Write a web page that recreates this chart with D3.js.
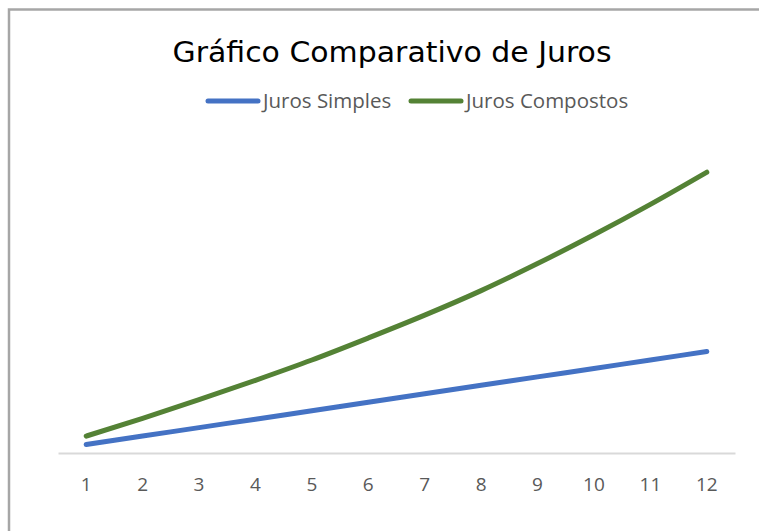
<!DOCTYPE html>
<html>
<head>
<meta charset="utf-8">
<script src="https://cdn.jsdelivr.net/npm/d3@7"></script>
<style>
  html, body { margin: 0; padding: 0; background: #fff; }
  svg { display: block; }
</style>
</head>
<body>
<script>
'use strict';

// categories (periods) and the two series
const periods = ["1", "2", "3", "4", "5", "6", "7", "8", "9", "10", "11", "12"];
const jurosSimples = [10, 20, 30, 40, 50, 60, 70, 80, 90, 100, 110, 120];
const jurosCompostos = [20, 41, 63, 86, 110, 136, 163, 192, 224, 258, 294, 332];
const seriesNames = ["Juros Simples", "Juros Compostos"];
const seriesColors = ["#4472C4", "#548235"];

(function () {
    const width = 759, height = 531;

    const svg = d3.select('body')
        .append('svg')
        .attr('width', width)
        .attr('height', height);

    // chart frame (cut off at right and bottom)
    svg.append('rect')
        .attr('x', 9)
        .attr('y', 9.5)
        .attr('width', 800)
        .attr('height', 600)
        .attr('fill', '#fff')
        .attr('stroke', '#a6a6a6')
        .attr('stroke-width', 2.5);

    // scales
    const x = d3.scaleBand()
        .domain(periods)
        .range([58, 735]);

    const y = d3.scaleLinear()
        .domain([0, 350])
        .range([453, 157]);

    // category axis
    const xAxis = d3.axisBottom(x).tickSize(0).tickPadding(0);
    const gx = svg.append('g')
        .attr('transform', 'translate(0, 453)')
        .call(xAxis);
    gx.select('.domain')
        .attr('stroke', '#d9d9d9')
        .attr('stroke-width', 2);
    gx.selectAll('text')
        .attr('fill', '#595959')
        .attr('dy', '38')
        .style('font-family', 'Open Sans, sans-serif')
        .style('font-size', '19px');

    // lines
    const series = [jurosSimples, jurosCompostos];
    const line = d3.line()
        .x((d, i) => x(periods[i]) + x.bandwidth() / 2)
        .y(d => y(d))
        .curve(d3.curveMonotoneX);

    svg.selectAll('.serie')
        .data(series)
        .enter()
        .append('path')
        .attr('class', 'serie')
        .attr('d', line)
        .attr('fill', 'none')
        .attr('stroke', (d, i) => seriesColors[i])
        .attr('stroke-width', 5)
        .attr('stroke-linecap', 'round')
        .attr('stroke-linejoin', 'round');

    // title
    svg.append('text')
        .attr('x', 392)
        .attr('y', 62)
        .attr('text-anchor', 'middle')
        .attr('textLength', 439)
        .attr('lengthAdjust', 'spacingAndGlyphs')
        .style('font-family', '"Comic Sans MS", "DejaVu Sans", sans-serif')
        .style('font-size', '29px')
        .attr('fill', '#000')
        .text('Gráfico Comparativo de Juros');

    // legend
    const legendX = [207, 410];
    const legend = svg.selectAll('.legend')
        .data(seriesNames)
        .enter()
        .append('g')
        .attr('class', 'legend')
        .attr('transform', (d, i) => 'translate(' + legendX[i] + ', 101)');

    legend.append('line')
        .attr('x1', 1)
        .attr('x2', 51)
        .attr('stroke', (d, i) => seriesColors[i])
        .attr('stroke-width', 5)
        .attr('stroke-linecap', 'round');

    legend.append('text')
        .attr('x', 56)
        .attr('dy', '0.35em')
        .attr('fill', '#595959')
        .style('font-family', 'Open Sans, sans-serif')
        .style('font-size', '20.5px')
        .text(d => d);
})();
</script>
</body>
</html>
